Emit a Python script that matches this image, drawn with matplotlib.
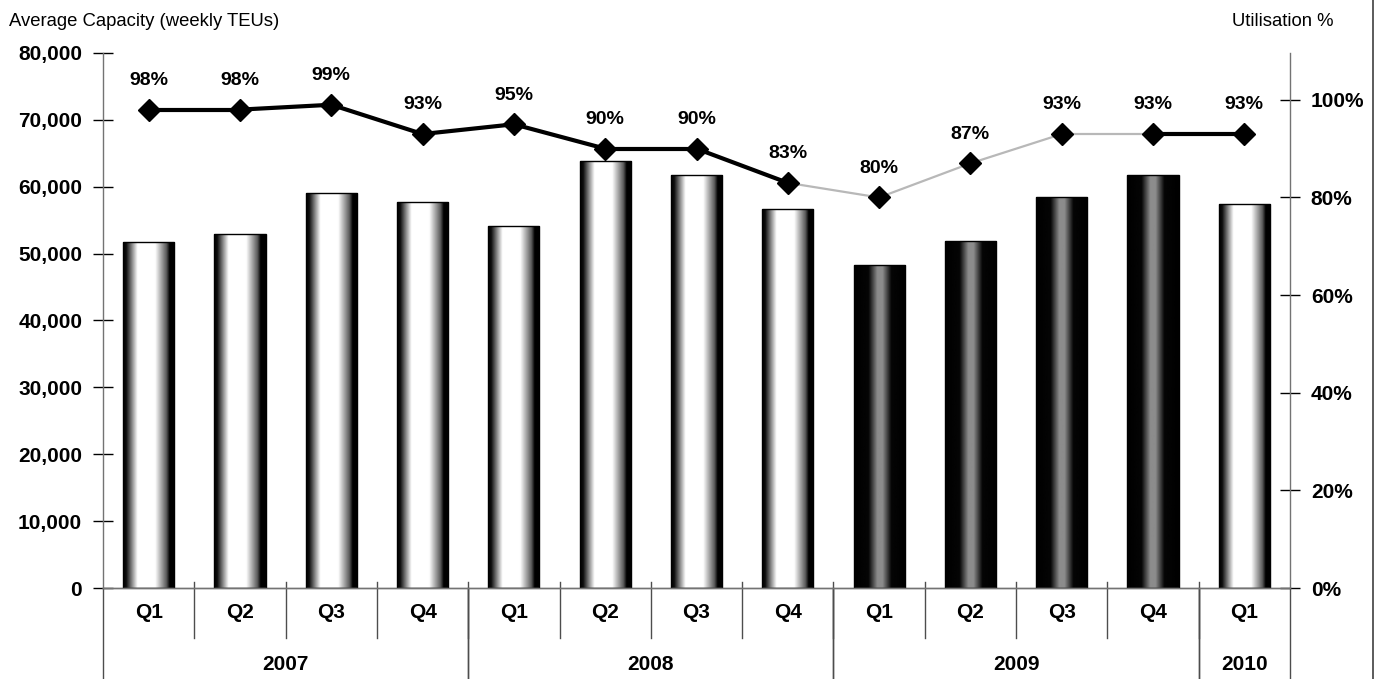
import matplotlib
matplotlib.use("Agg")
import matplotlib.pyplot as plt
import matplotlib.transforms as mtransforms
import numpy as np
from matplotlib.lines import Line2D

plt.rcParams["font.family"] = ["Liberation Sans", "DejaVu Sans"]

# Quarterly capacity (weekly TEUs) and utilisation
quarters = ["Q1", "Q2", "Q3", "Q4", "Q1", "Q2", "Q3", "Q4", "Q1", "Q2", "Q3", "Q4", "Q1"]
years = ["2007", "2008", "2009", "2010"]
year_spans = [(0, 4), (4, 8), (8, 12), (12, 13)]
capacity = [51700, 53000, 59000, 57700, 54100, 63800, 61800, 56700,
            48300, 51900, 58400, 61800, 57400]
utilisation = [98, 98, 99, 93, 95, 90, 90, 83, 80, 87, 93, 93, 93]
dark_bar = [False] * 8 + [True] * 4 + [False]
grey_segments = [(7, 11)]  # line drawn light between these points

W, H = 1375, 679
fig = plt.figure(figsize=(W / 100, H / 100), dpi=100)
ax = fig.add_axes([103 / W, (H - 588) / H, (1290 - 103) / W, (588 - 53) / H])
ax2 = ax.twinx()

n = len(capacity)
x = np.arange(n)
bw = 0.56

# cylinder-like shading profiles across the bar width
u = np.linspace(0, 1, 200)
light_prof = np.interp(u, [0, 0.06, 0.28, 0.62, 0.84, 0.90, 1.0],
                       [0.0, 0.05, 1.0, 1.0, 0.35, 0.0, 0.0])
dark_prof = np.interp(u, [0, 0.28, 0.45, 0.55, 0.72, 1.0],
                      [0.0, 0.02, 0.55, 0.55, 0.02, 0.0])

bars = ax.bar(x, capacity, width=bw, facecolor="none", edgecolor="black",
              linewidth=1.0, zorder=3)
for rect, dk in zip(bars, dark_bar):
    prof = dark_prof if dk else light_prof
    x0, w, h = rect.get_x(), rect.get_width(), rect.get_height()
    im = ax.imshow(prof[np.newaxis, :], cmap="gray", vmin=0, vmax=1,
                   extent=[x0, x0 + w, 0, h], aspect="auto", zorder=2,
                   interpolation="bilinear")
    im.set_clip_path(rect)

ax.set_xlim(-0.5, n - 0.5)
ax.set_ylim(0, 80000)
ax.set_yticks(np.arange(0, 80001, 10000))
ax.set_yticklabels([f"{v:,}" for v in range(0, 80001, 10000)])
ax.set_xticks([])

ax2.set_ylim(0, 109.6)
ax2.set_yticks(np.arange(0, 101, 20))
ax2.set_yticklabels([f"{v}%" for v in range(0, 101, 20)])

for a in (ax, ax2):
    a.spines["top"].set_visible(False)
    for s in ("left", "right", "bottom"):
        a.spines[s].set_color("0.45")
        a.spines[s].set_linewidth(1.0)
    a.tick_params(axis="y", direction="inout", length=14, width=1.0,
                  color="black", labelsize=15, pad=8)
    for lab in a.get_yticklabels():
        lab.set_fontweight("bold")
ax.spines["right"].set_visible(False)
ax2.spines["left"].set_visible(False)

# utilisation line: black, with a light stretch through 2009
for i in range(n - 1):
    grey = any(a <= i < b for a, b in grey_segments)
    ax2.plot(x[i:i + 2], utilisation[i:i + 2],
             color="0.72" if grey else "black",
             lw=1.6 if grey else 3.0, zorder=4, solid_capstyle="butt")
ax2.plot(x, utilisation, ls="none", marker="D", ms=11, color="black", zorder=5)
for xi, v in zip(x, utilisation):
    ax2.annotate(f"{v}%", (xi, v), xytext=(0, 21), textcoords="offset points",
                 ha="center", va="center", fontsize=14, fontweight="bold")

# two-level category axis below the plot
trans = mtransforms.blended_transform_factory(ax.transData, ax.transAxes)
ax_h = 588 - 53
for xi, q in zip(x, quarters):
    ax.text(xi, -24 / ax_h, q, transform=trans, ha="center", va="center",
            fontsize=15, fontweight="bold")
for i in range(1, n):
    ax.add_line(Line2D([i - 0.5, i - 0.5], [6 / ax_h, -50 / ax_h], transform=trans,
                       color="0.3", lw=1.0, clip_on=False))
for (a, b), yr in zip(year_spans, years):
    ax.text((a + b - 1) / 2, -77 / ax_h, yr, transform=trans, ha="center",
            va="center", fontsize=15, fontweight="bold")
    for edge in (a, b):
        ax.add_line(Line2D([edge - 0.5, edge - 0.5], [0, -95 / ax_h], transform=trans,
                           color="0.3", lw=1.0, clip_on=False))

fig.text(9 / W, 1 - 21 / H, "Average Capacity (weekly TEUs)", ha="left",
         va="center", fontsize=13.3)
fig.text(1334 / W, 1 - 21 / H, "Utilisation %", ha="right", va="center",
         fontsize=13.3)
fig.add_artist(Line2D([1373 / W, 1373 / W], [0, 1], transform=fig.transFigure,
                      color="0.25", lw=1.2))

fig.savefig("out.png", dpi=100)
